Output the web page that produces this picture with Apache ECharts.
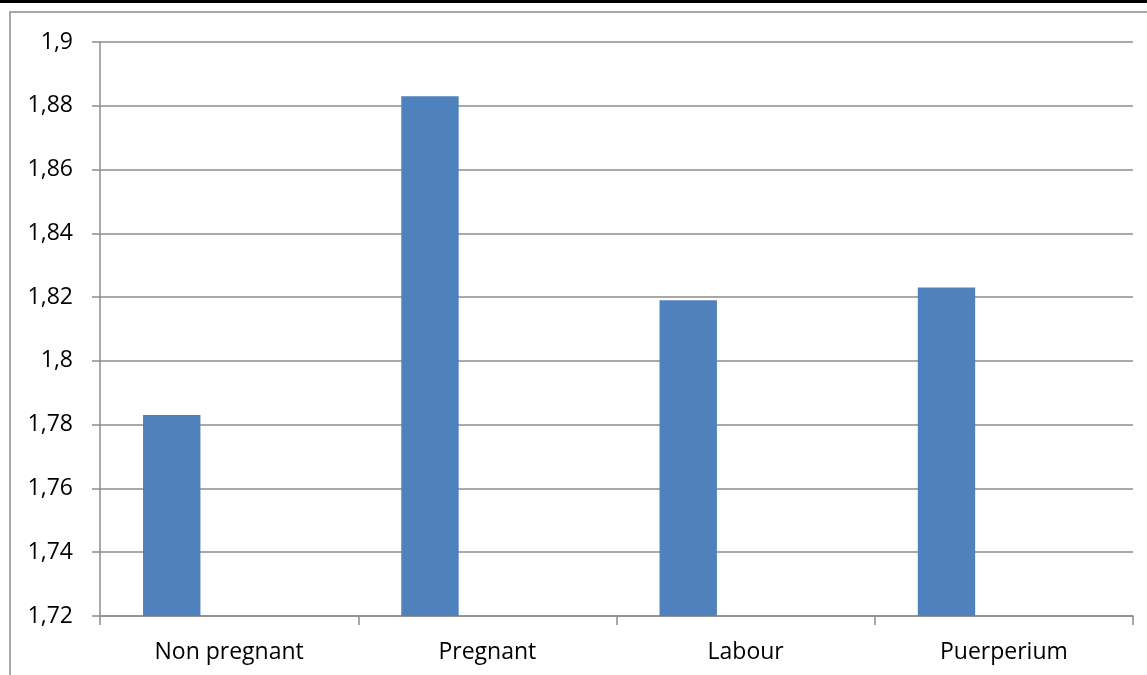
<!DOCTYPE html>
<html>
<head>
<meta charset="utf-8">
<script src="https://cdn.jsdelivr.net/npm/echarts@6/dist/echarts.min.js"></script>
<style>
  html, body { margin: 0; padding: 0; background: #fff; }
  #main { width: 1147px; height: 675px; }
</style>
</head>
<body>
<div id="main"></div>
<script>
var categories = ['Non pregnant', 'Pregnant', 'Labour', 'Puerperium']
var values = [1.783, 1.883, 1.819, 1.823]
// Excel chart had two more (empty) series next to each bar
var emptySeries = [null, null, null, null]
var yMin = 1.72
var yMax = 1.9
var yStep = 0.02

var gray = '#8c8c8c'
var font = 'Open Sans'

var myChart = echarts.init(document.getElementById('main'))

myChart.setOption({
  animation: false,
  backgroundColor: '#fff',
  graphic: [
    { type: 'rect', shape: { x: 0, y: 0, width: 1147, height: 3 }, style: { fill: '#000' } },
    { type: 'rect', shape: { x: 10, y: 12, width: 1200, height: 700 }, style: { fill: 'none', stroke: gray, lineWidth: 1.5 } }
  ],
  grid: {
    left: 100,
    top: 42,
    right: 14,
    bottom: 59
  },
  xAxis: {
    type: 'category',
    data: categories,
    axisLine: { lineStyle: { color: gray, width: 1.5 } },
    axisTick: { show: true, length: 9, lineStyle: { color: gray, width: 1.5 } },
    axisLabel: { color: '#000', fontFamily: font, fontSize: 23, margin: 25 }
  },
  yAxis: {
    type: 'value',
    min: yMin,
    max: yMax,
    interval: yStep,
    axisLine: { show: true, lineStyle: { color: gray, width: 1.5 } },
    axisTick: { show: true, length: 8, lineStyle: { color: gray, width: 1.5 } },
    splitLine: { lineStyle: { color: gray, width: 1.5 } },
    axisLabel: {
      color: '#000',
      fontFamily: font,
      fontSize: 23,
      margin: 27,
      formatter: function (v) {
        return String(+v.toFixed(2)).replace('.', ',')
      }
    }
  },
  series: [
    {
      type: 'bar',
      data: values,
      barGap: 0,
      barCategoryGap: '33.33%',
      itemStyle: { color: '#4F81BD' }
    },
    { type: 'bar', data: emptySeries },
    { type: 'bar', data: emptySeries }
  ]
})
</script>
</body>
</html>
